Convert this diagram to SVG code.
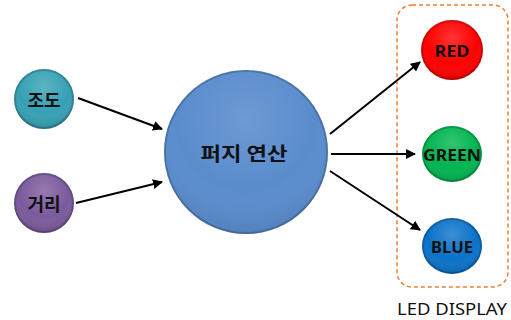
<svg xmlns="http://www.w3.org/2000/svg" width="511" height="320" viewBox="0 0 511 320">
<defs>
<style>
.lbl{font-family:"Noto Sans CJK KR","Noto Sans",sans-serif;font-weight:bold;fill:#111;text-anchor:middle;dominant-baseline:central}
.en{font-family:"Noto Sans","Liberation Sans",sans-serif;font-weight:bold;fill:#111;text-anchor:middle;dominant-baseline:central}
.conn line{stroke:#000;stroke-width:2;marker-end:url(#ah)}
.rim{fill:none;stroke:#000;stroke-opacity:0.18;stroke-width:2}
</style>
<marker id="ah" viewBox="0 0 10 10" refX="9" refY="5" markerWidth="5" markerHeight="5" orient="auto" markerUnits="strokeWidth">
<path d="M0,0 L10,5 L0,10 z" fill="#000"/>
</marker>
<radialGradient id="shine" cx="0.5" cy="0.3" r="0.7">
<stop offset="0" stop-color="#fff" stop-opacity="0.2"/>
<stop offset="0.6" stop-color="#fff" stop-opacity="0"/>
<stop offset="1" stop-color="#000" stop-opacity="0.15"/>
</radialGradient>
</defs>
<g id="box">
<rect x="397" y="5" width="111" height="282" rx="15" fill="none" stroke="#ED7D31" stroke-width="1.5" stroke-dasharray="4,3"/>
<text x="452" y="308" class="en" style="font-weight:normal;font-size:17px" textLength="110" lengthAdjust="spacingAndGlyphs">LED DISPLAY</text>
</g>
<g class="conn">
<line x1="78" y1="98" x2="162" y2="129"/>
<line x1="76" y1="203" x2="162" y2="182"/>
<line x1="330" y1="134" x2="420" y2="62"/>
<line x1="331" y1="154" x2="415" y2="154"/>
<line x1="330" y1="171" x2="420" y2="230"/>
</g>
<g id="jodo">
<circle cx="44" cy="99" r="30" fill="#35A0B4"/>
<circle cx="44" cy="99" r="30" fill="url(#shine)"/>
<circle cx="44" cy="99" r="29" class="rim"/>
<text x="44" y="99" class="lbl" style="font-size:18px">조도</text>
</g>
<g id="geori">
<circle cx="44" cy="203" r="30" fill="#7B5A9C"/>
<circle cx="44" cy="203" r="30" fill="url(#shine)"/>
<circle cx="44" cy="203" r="29" class="rim"/>
<text x="44" y="203" class="lbl" style="font-size:18px">거리</text>
</g>
<g id="fuzzy">
<circle cx="246" cy="152" r="82" fill="#5A8CCD"/>
<circle cx="246" cy="152" r="82" fill="url(#shine)" opacity="0.6"/>
<circle cx="246" cy="152" r="81" class="rim"/>
<text x="244" y="152" class="lbl" style="font-size:19px" textLength="87" lengthAdjust="spacingAndGlyphs">퍼지 연산</text>
</g>
<g id="red">
<ellipse cx="452" cy="50" rx="31" ry="30" fill="#FF0000"/>
<ellipse cx="452" cy="50" rx="31" ry="30" fill="url(#shine)"/>
<ellipse cx="452" cy="50" rx="30" ry="29" class="rim"/>
<text x="452" y="51" class="en" style="font-size:16px" textLength="35" lengthAdjust="spacingAndGlyphs">RED</text>
</g>
<g id="green">
<ellipse cx="452" cy="154" rx="30" ry="28" fill="#00B550"/>
<ellipse cx="452" cy="154" rx="30" ry="28" fill="url(#shine)"/>
<ellipse cx="452" cy="154" rx="29" ry="27" class="rim"/>
<text x="452" y="155" class="en" style="font-size:16px" textLength="58" lengthAdjust="spacingAndGlyphs">GREEN</text>
</g>
<g id="blue">
<ellipse cx="452" cy="246" rx="30" ry="28" fill="#0A72C8"/>
<ellipse cx="452" cy="246" rx="30" ry="28" fill="url(#shine)"/>
<ellipse cx="452" cy="246" rx="29" ry="27" class="rim"/>
<text x="452" y="247" class="en" style="font-size:16px" textLength="42" lengthAdjust="spacingAndGlyphs">BLUE</text>
</g>
</svg>
